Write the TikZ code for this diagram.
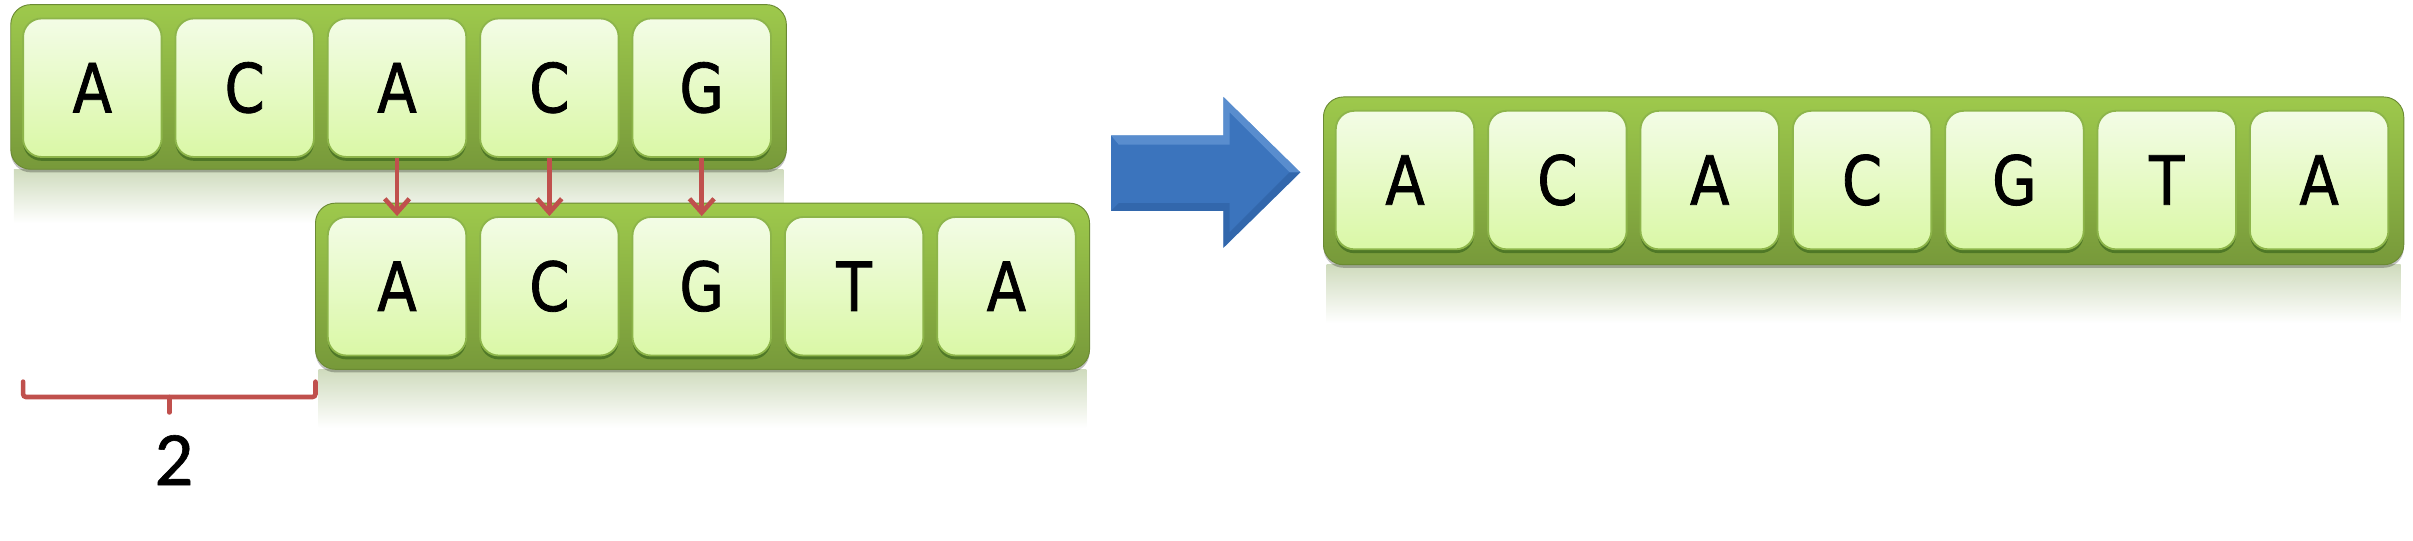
\documentclass[tikz,border=0pt]{standalone}
\usepackage{fontspec}
\newfontfamily\cellfont[FakeStretch=0.85,FakeBold=1.2]{DejaVu Sans}
\newfontfamily\numfont[FakeBold=0.8]{Carlito}
\usetikzlibrary{arrows.meta,shadows}
\definecolor{striptop}{HTML}{9EC94C}
\definecolor{stripbot}{HTML}{77993A}
\definecolor{celltop}{HTML}{F3FCE6}
\definecolor{cellbot}{HTML}{DAF8A6}
\definecolor{cellborder}{HTML}{8DB54A}
\definecolor{refltop}{HTML}{CFDBBD}
\definecolor{redline}{HTML}{C0504D}
\definecolor{bluefill}{HTML}{3B74BD}
\definecolor{bluelight}{HTML}{6D9FDA}
\definecolor{bluedark}{HTML}{2B5C9C}
\tikzset{
  strip/.style={rounded corners=13pt, top color=striptop, bottom color=stripbot,
    draw=stripbot!90!black, line width=0.6pt, inner sep=0pt,
    drop shadow={shadow xshift=0pt, shadow yshift=-2pt, opacity=0.25, fill=black}},
  refl/.style={top color=refltop, bottom color=white, draw=none},
  cell/.style={rounded corners=12pt, minimum width=90pt, minimum height=90pt,
    draw=cellborder, line width=1.2pt, top color=celltop, bottom color=cellbot,
    inner sep=0pt, text height=32pt, text depth=0pt,
    font=\cellfont\fontsize{44}{44}\selectfont,
    drop shadow={shadow xshift=0pt, shadow yshift=-2.5pt, opacity=0.35, fill=black!80!green}},
  redarrow/.style={draw=redline, line width=3pt, -{Straight Barb[length=9pt,width=16pt,line width=3pt]}},
  bracket/.style={draw=redline, line width=3pt, rounded corners=2pt, line cap=round},
  numlabel/.style={font=\numfont\fontsize{50}{50}\selectfont, inner sep=0pt}
}
\begin{document}
\begin{tikzpicture}[x=1pt,y=-1pt]
\useasboundingbox (0,0) rectangle (1568,351.5);
% reflections
\fill[refl] (9,110) rectangle (509,145);
\fill[refl] (207,240) rectangle (706,278);
\fill[refl] (862,172) rectangle (1560,210);
% strips
\node[strip, minimum width=504pt, minimum height=107pt] (s1) at (259,56.5) {};
\node[strip, minimum width=503pt, minimum height=108pt] (s2) at (456.5,186) {};
\node[strip, minimum width=702pt, minimum height=109pt] (s3) at (1211,117.5) {};
% top row
\node[cell] (t1) at (60,57) {A};
\node[cell] (t2) at (159,57) {C};
\node[cell] (t3) at (258,57) {A};
\node[cell] (t4) at (357,57) {C};
\node[cell] (t5) at (456,57) {G};
% bottom row
\node[cell] (b1) at (258,186) {A};
\node[cell] (b2) at (357,186) {C};
\node[cell] (b3) at (456,186) {G};
\node[cell] (b4) at (555,186) {T};
\node[cell] (b5) at (654,186) {A};
% result row
\node[cell] (r1) at (913,117) {A};
\node[cell] (r2) at (1012,117) {C};
\node[cell] (r3) at (1111,117) {A};
\node[cell] (r4) at (1210,117) {C};
\node[cell] (r5) at (1309,117) {G};
\node[cell] (r6) at (1408,117) {T};
\node[cell] (r7) at (1507,117) {A};
% overlap arrows
\draw[redarrow] (t3.south) -- (b1.north);
\draw[redarrow] (t4.south) -- (b2.north);
\draw[redarrow] (t5.south) -- (b3.north);
% bracket
\coordinate (bl) at (15,248);
\coordinate (br) at (205,248);
\coordinate (bm) at (110,258);
\draw[bracket] (bl) -- (bl |- bm) -- (br |- bm) -- (br);
\draw[bracket] (bm) -- ++(0,10);
\node[numlabel] (shift) at (113,299) {2};
% blue arrow
\fill[bluefill] (722,88) -- (795,88) -- (795,63) -- (845,112) -- (795,161) -- (795,137) -- (722,137) -- cycle;
\fill[bluelight, opacity=0.6] (722,88) -- (795,88) -- (795,63) -- (845,112) -- (838,112) -- (799,73) -- (799,94) -- (727,94) -- cycle;
\fill[bluedark, opacity=0.5] (722,137) -- (795,137) -- (795,161) -- (845,112) -- (838,112) -- (799,151) -- (799,132) -- (727,132) -- cycle;
\end{tikzpicture}
\end{document}
